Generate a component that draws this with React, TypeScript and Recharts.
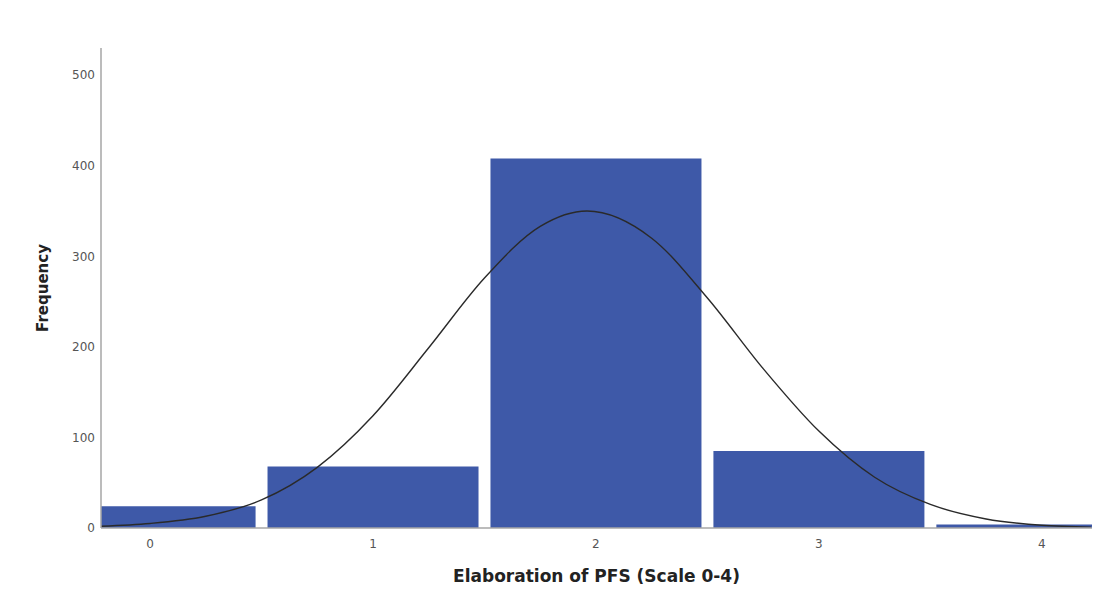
import { Bar, ComposedChart, Label, Line, XAxis, YAxis } from "recharts";

// histogram bins (scale value -> count)
const scores = [0, 1, 2, 3, 4];
const frequencies = [24, 68, 408, 85, 4];

// normal curve
const curveX = [-0.22, 0, 0.25, 0.5, 0.75, 1, 1.25, 1.5, 1.75, 1.96, 2.25, 2.5, 2.75, 3, 3.25, 3.5, 3.75, 4, 4.22];
const curveY = [2, 5, 13, 31, 67, 124, 199, 276, 333, 350, 320, 254, 176, 107, 56, 26, 10, 3, 1];

const xTicks = [0, 1, 2, 3, 4];
const yTicks = [0, 100, 200, 300, 400, 500];
const xDomain = [-0.22, 4.225];

const histData = scores.map((s, i) => ({ x: s, count: frequencies[i] }));
const curveData = curveX.map((x, i) => ({ x, y: curveY[i] }));

const font = "'DejaVu Sans', Verdana, sans-serif";

export default function App() {
  return (
    <div style={{ width: 1096, height: 588 }}>
      <ComposedChart
        width={1096}
        height={588}
        data={histData}
        margin={{ top: 40, right: 12, bottom: 0, left: 0 }}
      >
        <XAxis
          dataKey="x"
          type="number"
          domain={xDomain}
          ticks={xTicks}
          allowDataOverflow
          height={68}
          tickLine={false}
          tickSize={0}
          tickMargin={11}
          axisLine={{ stroke: "#a6a6a6", strokeWidth: 1.5 }}
          tick={{ fill: "#555", fontSize: 12, fontFamily: font }}
        >
          <Label
            value="Elaboration of PFS (Scale 0-4)"
            position="insideBottom"
            offset={14}
            style={{ fill: "#222", fontSize: 17, fontWeight: 700, fontFamily: font }}
          />
        </XAxis>
        {/* separate hidden axis for the curve so its dense points don't shrink the bars */}
        <XAxis xAxisId="curve" dataKey="x" type="number" domain={xDomain} allowDataOverflow hide />
        <YAxis
          type="number"
          domain={[0, 530]}
          ticks={yTicks}
          width={93}
          tickLine={false}
          tickSize={0}
          tickMargin={6}
          axisLine={{ stroke: "#a6a6a6", strokeWidth: 1.5 }}
          tick={{ fill: "#555", fontSize: 12, fontFamily: font }}
        >
          <Label
            value="Frequency"
            angle={-90}
            position="insideLeft"
            offset={35}
            style={{ textAnchor: "middle", fill: "#222", fontSize: 15, fontWeight: 700, fontFamily: font }}
          />
        </YAxis>
        <Bar dataKey="count" fill="#3e59a8" barSize={211} isAnimationActive={false} />
        <Line
          xAxisId="curve"
          data={curveData}
          dataKey="y"
          type="monotone"
          stroke="#2a2a2a"
          strokeWidth={1.4}
          dot={false}
          activeDot={false}
          isAnimationActive={false}
        />
      </ComposedChart>
    </div>
  );
}
